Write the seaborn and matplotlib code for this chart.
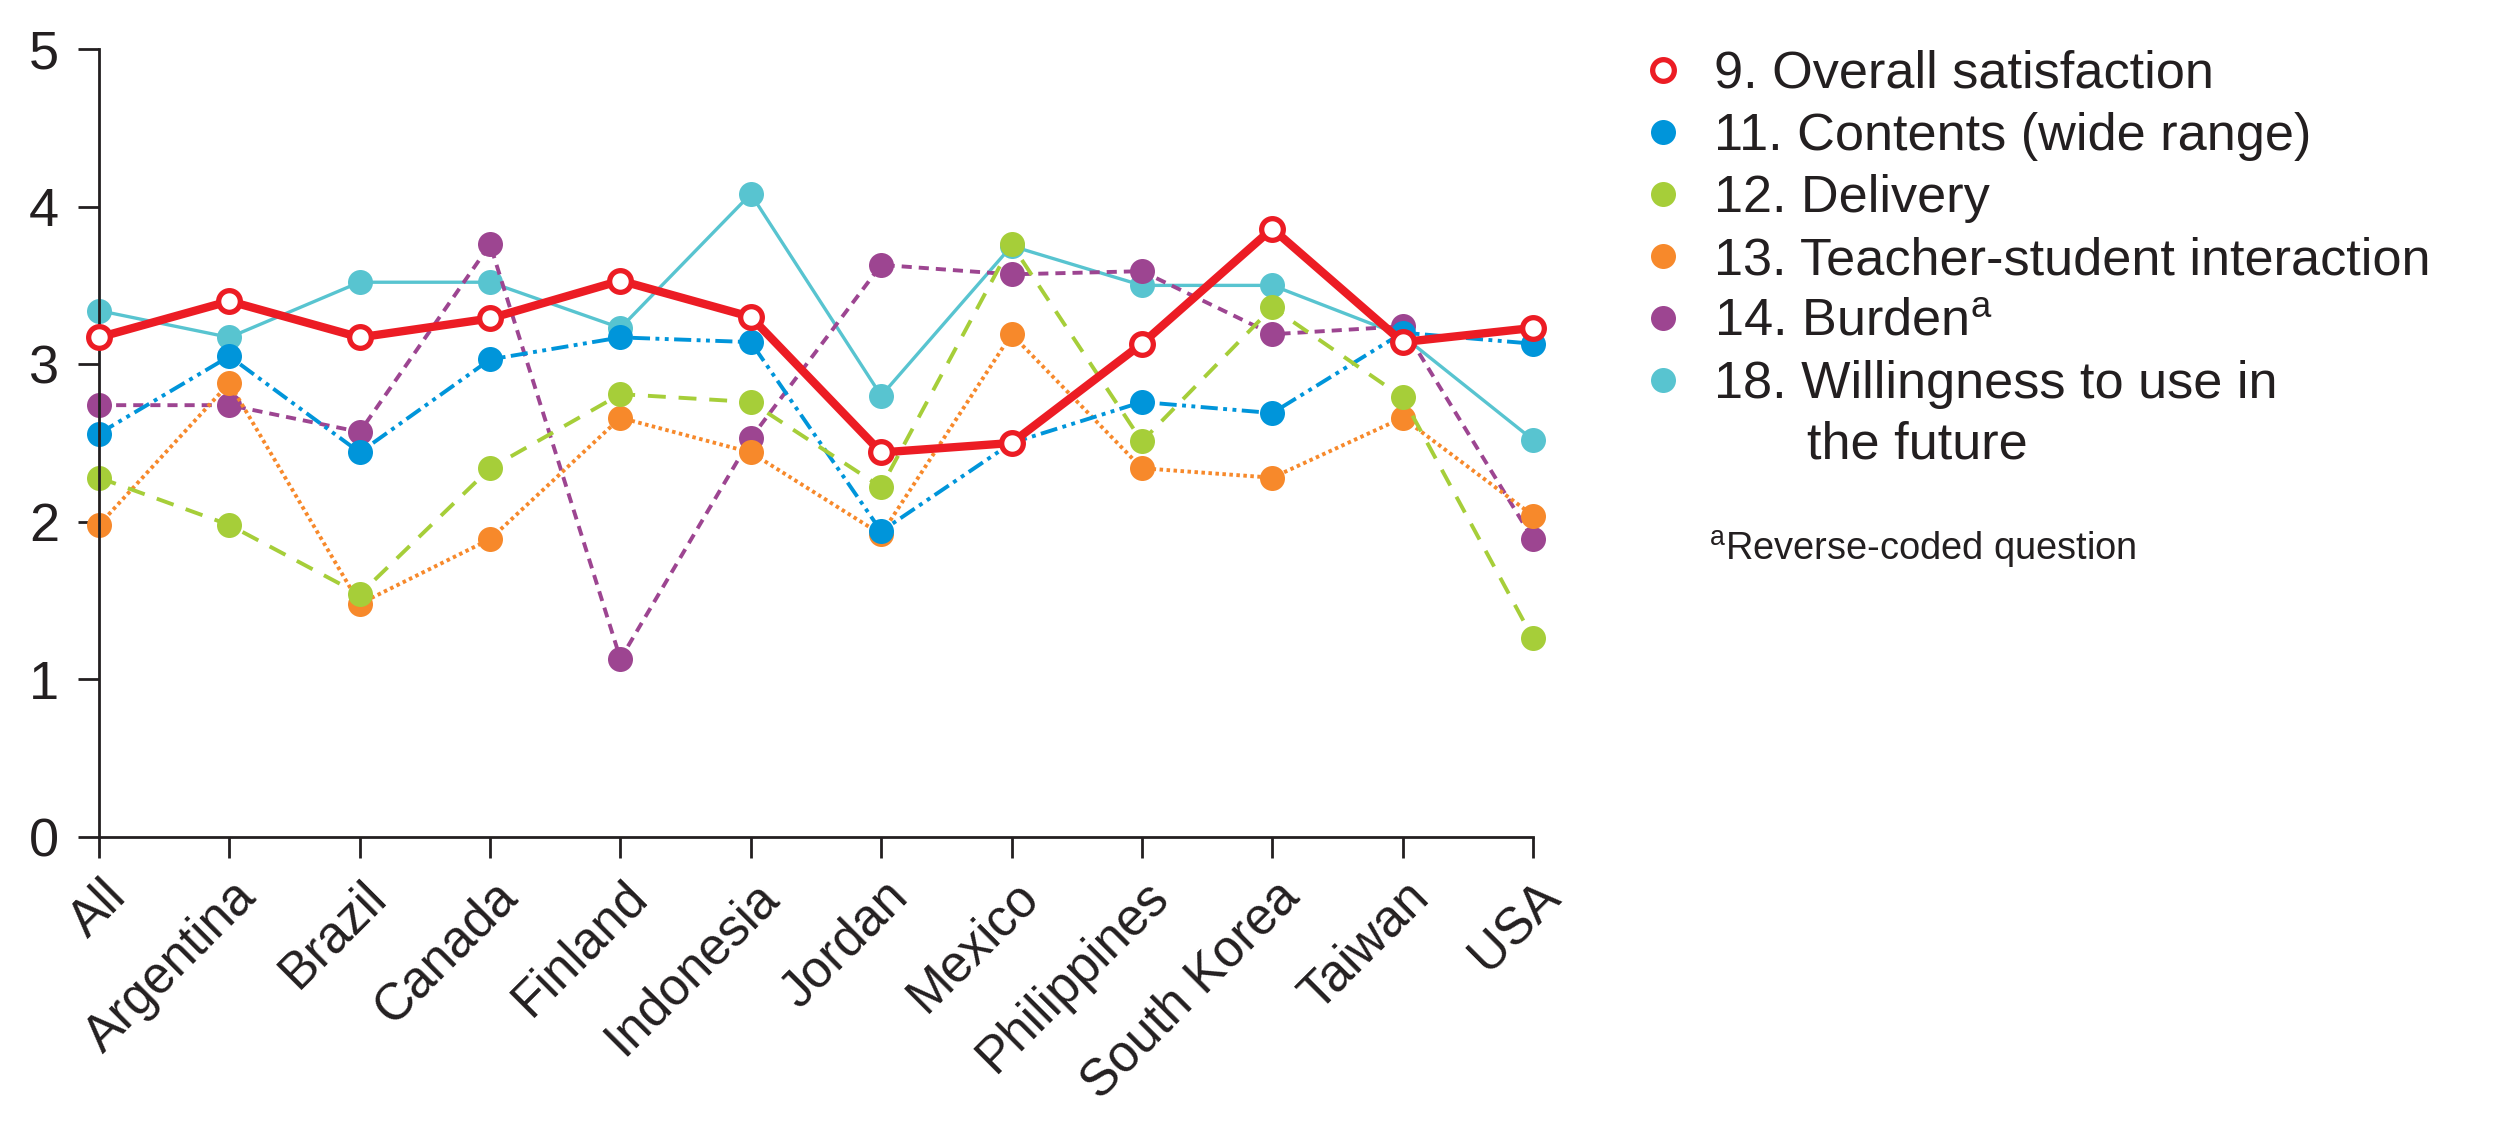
"""
Line chart: survey item scores by country (questions 9, 11-14, 18)
"""

import numpy as np
import matplotlib.pyplot as plt
import matplotlib.transforms as mtrans
import seaborn as sns
from matplotlib.lines import Line2D

sns.set_style("white")
plt.rcParams['font.family'] = ['Liberation Sans', 'DejaVu Sans']
plt.rcParams['mathtext.fontset'] = 'custom'
plt.rcParams['mathtext.rm'] = 'Liberation Sans'
plt.rcParams['mathtext.it'] = 'Liberation Sans'
plt.rcParams['text.color'] = '#231f20'
plt.rcParams['xtick.color'] = '#231f20'
plt.rcParams['ytick.color'] = '#231f20'

countries = ['All', 'Argentina', 'Brazil', 'Canada', 'Finland', 'Indonesia',
             'Jordan', 'Mexico', 'Philippines', 'South Korea', 'Taiwan', 'USA']

overall = [3.17, 3.40, 3.17, 3.29, 3.53, 3.30, 2.44, 2.50, 3.13, 3.86, 3.14, 3.23]
contents = [2.56, 3.05, 2.44, 3.03, 3.17, 3.14, 1.94, 2.50, 2.76, 2.69, 3.20, 3.13]
delivery = [2.28, 1.98, 1.54, 2.34, 2.81, 2.76, 2.22, 3.76, 2.51, 3.36, 2.79, 1.26]
interaction = [1.98, 2.88, 1.48, 1.89, 2.66, 2.44, 1.92, 3.19, 2.34, 2.28, 2.66, 2.04]
burden = [2.74, 2.74, 2.57, 3.76, 1.13, 2.53, 3.63, 3.57, 3.59, 3.19, 3.24, 1.89]
willingness = [3.34, 3.17, 3.52, 3.52, 3.23, 4.08, 2.80, 3.75, 3.50, 3.50, 3.18, 2.52]

labels = ['9. Overall satisfaction',
          '11. Contents (wide range)',
          '12. Delivery',
          '13. Teacher-student interaction',
          r'14. Burden$^{\mathrm{a}}$',
          '18. Willingness to use in']
label_cont = 'the future'
footnote = r'$^{\mathrm{a}}$Reverse-coded question'

RED = '#ec1c24'
BLUE = '#0095da'
GREEN = '#a6ce39'
ORANGE = '#f7892b'
PURPLE = '#9d4591'
CYAN = '#58c4d0'

x = np.arange(len(countries))

fig = plt.figure(figsize=(12.5, 5.665), dpi=200)
ax = fig.add_axes([0.0396, 0.2612, 0.5736, 0.6956])

# drawing order: bottom -> top
series = [
    (willingness, CYAN, '-', 1.2),
    (burden, PURPLE, (0, (2.6, 1.8)), 1.4),
    (interaction, ORANGE, (0, (0.9, 0.9)), 1.4),
    (contents, BLUE, (0, (4.4, 1.4, 1.0, 1.4, 1.0, 1.4)), 1.4),
    (delivery, GREEN, (0, (4.6, 3.3)), 1.4),
]
for vals, col, ls, lw in series:
    sns.lineplot(x=x, y=vals, ax=ax, color=col, linestyle=ls, linewidth=lw,
                 marker='o', markersize=9, markeredgewidth=0,
                 markerfacecolor=col, clip_on=False)

sns.lineplot(x=x, y=overall, ax=ax, color=RED, linestyle='-', linewidth=3.0,
             marker='o', markersize=7.8, markeredgewidth=1.9,
             markerfacecolor='white', markeredgecolor=RED, clip_on=False,
             zorder=5)

ax.set_xlim(0, 11)
ax.set_ylim(0, 5)
ax.set_yticks([0, 1, 2, 3, 4, 5])
ax.set_xticks(x)
ax.set_xticklabels(countries, rotation=45, ha='right', va='baseline',
                   rotation_mode='anchor', fontsize=18.5)
ax.tick_params(axis='y', labelsize=19.5, length=7.4, width=1.0, pad=7,
               direction='out', left=True)
ax.tick_params(axis='x', length=7.4, width=1.0, pad=14.9, direction='out',
               bottom=True)
shift = mtrans.ScaledTranslation(29 / 200, 0, fig.dpi_scale_trans)
for lab in ax.get_xticklabels():
    lab.set_transform(lab.get_transform() + shift)
for s in ['top', 'right']:
    ax.spines[s].set_visible(False)
for s in ['left', 'bottom']:
    ax.spines[s].set_linewidth(1.0)
    ax.spines[s].set_color('#231f20')
ax.set_xlabel('')
ax.set_ylabel('')
ax.grid(False)

# legend (markers only)
colors = [RED, BLUE, GREEN, ORANGE, PURPLE, CYAN]
handles = []
for i, col in enumerate(colors):
    if i == 0:
        h = Line2D([], [], linestyle='none', marker='o', markersize=7.8,
                   markerfacecolor='white', markeredgecolor=RED,
                   markeredgewidth=1.9)
    else:
        h = Line2D([], [], linestyle='none', marker='o', markersize=9,
                   markerfacecolor=col, markeredgewidth=0)
    handles.append(h)

leg = fig.legend(handles, labels, loc='upper left',
                 bbox_to_anchor=(0.6588, 0.956), frameon=False,
                 fontsize=18.8, labelspacing=0.25, handlelength=0.6,
                 handletextpad=0.68, borderaxespad=0, borderpad=0)

fig.text(0.7228, 0.607, label_cont, fontsize=18.8, ha='left', va='center')
fig.text(0.6835, 0.515, footnote, fontsize=13.7, ha='left', va='center')

fig.savefig('out.png', dpi=200)
